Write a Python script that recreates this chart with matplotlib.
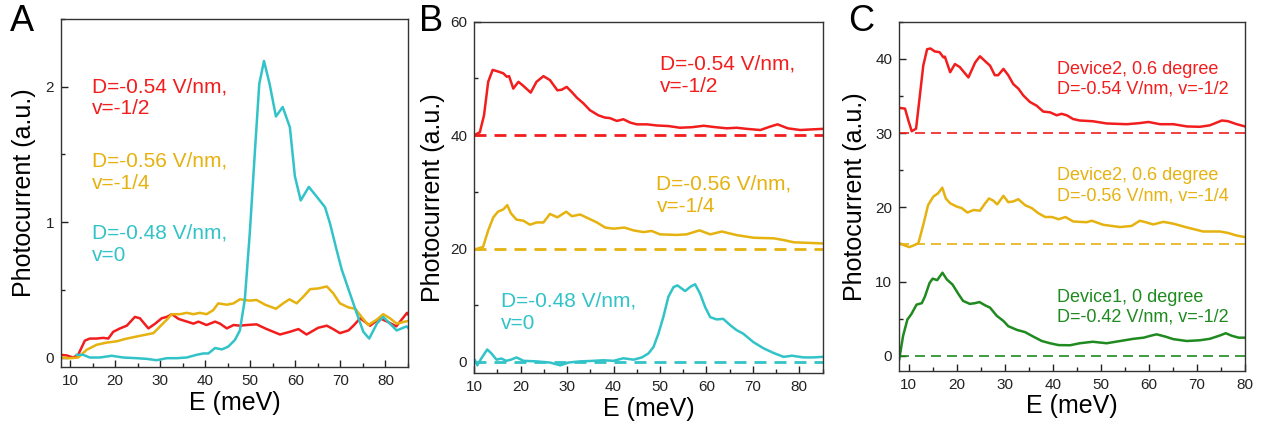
import numpy as np
import matplotlib
matplotlib.use("Agg")
import matplotlib.pyplot as plt
from matplotlib.ticker import MultipleLocator

plt.rcParams['font.family'] = ['Liberation Sans', 'DejaVu Sans']

RED = '#f21d1d'
YELLOW = '#e5b20f'
CYAN = '#31c3c8'
GREEN = '#1f8a1f'

# ---- panel A ----
a_red_E = [8.0, 9.3, 10.7, 11.8, 13.3, 14.4, 15.9, 17.4, 18.5, 19.6, 21.1, 22.6, 24.4, 25.5,
           27.4, 28.9, 30.35, 31.5, 32.6, 34.1, 35.5, 37.4, 38.5, 40.3, 42.2, 43.3, 44.8, 46.3,
           47.7, 49.2, 51.4, 53.65, 56.6, 58.8, 60.7, 62.5, 65.1, 67.0, 68.4, 69.9, 71.8, 72.9,
           74.4, 76.6, 78.8, 80.7, 82.4, 84.8, 85.0]
a_red = [0.02, 0.015, 0.0, 0.02, 0.125, 0.14, 0.14, 0.145, 0.14, 0.19, 0.215, 0.235, 0.30, 0.29,
         0.215, 0.25, 0.29, 0.30, 0.32, 0.285, 0.27, 0.25, 0.265, 0.24, 0.265, 0.25, 0.215, 0.24,
         0.235, 0.24, 0.245, 0.21, 0.17, 0.19, 0.21, 0.17, 0.22, 0.235, 0.21, 0.18, 0.20, 0.235,
         0.29, 0.235, 0.29, 0.26, 0.23, 0.33, 0.32]

a_yel_E = [8.0, 10.0, 11.8, 13.7, 15.9, 18.1, 20.4, 22.6, 24.8, 27.0, 28.5, 30.0, 31.5, 32.6,
           34.4, 35.9, 37.4, 38.8, 40.3, 41.8, 42.9, 44.8, 46.3, 47.7, 49.9, 51.4, 53.3, 55.7,
           57.3, 58.7, 60.3, 61.8, 63.3, 65.1, 67.0, 68.4, 69.9, 71.8, 73.3, 74.7, 76.2, 78.1,
           79.5, 81.0, 82.5, 85.0]
a_yel = [0.0, -0.005, 0.0, 0.057, 0.094, 0.11, 0.12, 0.14, 0.155, 0.17, 0.18, 0.23, 0.28, 0.32,
         0.32, 0.33, 0.32, 0.33, 0.32, 0.35, 0.40, 0.39, 0.40, 0.43, 0.42, 0.425, 0.39, 0.36,
         0.40, 0.43, 0.40, 0.45, 0.505, 0.51, 0.525, 0.475, 0.40, 0.37, 0.36, 0.30, 0.24, 0.28,
         0.32, 0.29, 0.25, 0.27]

a_cyan_E = [11.5, 12.9, 14.4, 16.6, 19.25, 21.8, 24.8, 27.0, 29.2, 31.5, 33.7, 35.9, 38.1, 39.6,
            40.7, 42.2, 43.7, 45.1, 46.6, 47.7, 48.8, 49.9, 51.05, 52.0, 53.05, 54.3, 55.7, 57.2,
            58.8, 59.9, 61.2, 63.0, 64.7, 66.6, 67.7, 69.2, 70.3, 72.1, 73.6, 75.1, 76.4, 78.1,
            79.5, 81.0, 82.5, 84.7, 85.0]
a_cyan = [0.02, 0.02, 0.0, 0.0, 0.013, 0.0, -0.005, -0.01, -0.02, -0.005, -0.005, 0.0, 0.02, 0.03,
          0.03, 0.07, 0.06, 0.08, 0.13, 0.20, 0.43, 0.92, 1.53, 2.02, 2.19, 2.02, 1.78, 1.85,
          1.70, 1.34, 1.16, 1.26, 1.19, 1.11, 0.99, 0.79, 0.65, 0.475, 0.33, 0.19, 0.14, 0.25,
          0.30, 0.25, 0.20, 0.23, 0.22]

# ---- panel B ----
b_red_E = [10.0, 11.2, 12.1, 13.0, 13.96, 15.2, 16.25, 17.0, 17.5, 18.4, 19.5, 20.4, 22.15, 23.4,
           24.9, 26.3, 27.9, 28.8, 29.9, 31.0, 32.1, 33.5, 34.9, 36.7, 38.1, 39.2, 40.7, 42.1,
           43.6, 45.0, 47.2, 49.3, 51.8, 54.3, 56.9, 59.4, 61.9, 64.4, 66.5, 68.7, 71.6, 73.7,
           75.3, 77.5, 80.2, 82.5, 85.0]
b_red = [40.0, 40.5, 43.5, 49.4, 51.5, 51.2, 50.9, 50.3, 50.4, 48.2, 49.4, 48.8, 47.5, 49.4,
         50.4, 49.7, 47.9, 48.0, 48.5, 47.6, 46.6, 45.6, 44.4, 43.5, 43.1, 43.0, 42.5, 42.8,
         42.2, 41.9, 41.9, 41.7, 41.6, 41.3, 41.4, 41.65, 41.4, 41.2, 41.3, 41.1, 40.9, 41.5,
         41.9, 41.2, 40.9, 41.0, 41.1]

b_yel_E = [10.0, 11.9, 13.0, 14.1, 15.1, 16.25, 17.1, 17.9, 19.1, 20.6, 22.0, 23.4, 24.9, 26.3,
           27.9, 29.8, 31.0, 32.8, 34.6, 36.4, 38.2, 40.0, 42.3, 44.3, 46.4, 48.2, 50.0, 53.6,
           55.7, 58.5, 60.8, 63.3, 66.6, 70.2, 74.5, 76.6, 78.8, 82.0, 85.0]
b_yel = [19.8, 20.3, 23.2, 25.5, 26.5, 26.9, 27.65, 26.2, 25.1, 24.9, 24.2, 24.6, 24.6, 26.1,
         25.5, 26.5, 25.7, 26.0, 25.3, 24.6, 23.7, 23.5, 23.7, 23.2, 22.9, 23.1, 22.5, 22.4,
         22.5, 23.2, 22.5, 23.0, 22.35, 21.9, 21.8, 21.5, 21.1, 21.0, 20.9]

b_cyan_E = [10.15, 10.65, 11.5, 12.8, 13.7, 14.8, 15.8, 16.9, 17.9, 19.1, 20.6, 23.4, 26.3, 28.5,
            30.3, 32.8, 35.7, 37.8, 40.0, 42.1, 44.3, 46.1, 47.5, 48.6, 49.65, 50.7, 51.8, 52.9,
            53.75, 55.4, 56.6, 57.55, 58.6, 59.7, 60.8, 62.2, 63.6, 65.1, 66.5, 67.9, 70.1, 72.3,
            74.4, 76.6, 78.4, 80.9, 83.0, 85.0]
b_cyan = [0.3, -0.6, 0.6, 2.2, 1.5, 0.4, 0.6, 0.2, 0.4, 0.8, 0.2, 0.1, -0.1, -0.6,
          -0.1, 0.1, 0.2, 0.3, 0.2, 0.65, 0.4, 0.8, 1.5, 2.65, 5.0, 7.9, 11.5, 13.2,
          13.5, 12.5, 13.3, 13.7, 12.1, 9.7, 7.9, 7.5, 7.6, 6.5, 5.6, 5.0, 3.5, 2.4,
          1.6, 0.9, 1.1, 0.8, 0.8, 0.9]

# ---- panel C ----
c_red_E = [8.0, 9.2, 9.9, 10.6, 11.5, 12.3, 13.0, 13.8, 14.5, 15.4, 16.4, 17.2, 17.5, 18.6,
           19.6, 20.6, 22.4, 23.8, 24.8, 26.2, 26.9, 27.9, 28.6, 29.7, 30.7, 31.75, 32.8, 33.8,
           35.2, 36.6, 38.0, 39.4, 40.8, 41.8, 42.9, 44.2, 45.6, 48.3, 51.2, 55.4, 58.1, 59.9,
           62.3, 65.1, 67.9, 70.6, 72.7, 75.2, 76.5, 78.3, 80.0]
c_red = [33.4, 33.3, 31.7, 30.25, 30.6, 35.1, 39.1, 41.3, 41.4, 41.0, 40.9, 40.2, 40.3, 38.2,
         39.3, 38.9, 37.5, 39.5, 40.35, 39.5, 39.1, 37.8, 37.8, 38.65, 37.8, 36.6, 36.0, 35.1,
         34.2, 33.7, 32.9, 32.8, 32.4, 32.6, 32.4, 31.9, 31.7, 31.6, 31.3, 31.2, 31.35, 31.5,
         31.2, 31.2, 30.9, 30.85, 31.05, 31.7, 31.6, 31.2, 30.9]

c_yel_E = [8.0, 9.2, 10.1, 11.3, 12.0, 13.0, 14.0, 15.1, 16.1, 16.96, 17.7, 18.6, 20.0, 21.0,
           22.2, 23.5, 24.8, 25.9, 26.7, 27.6, 28.4, 29.7, 30.7, 31.75, 32.8, 34.2, 35.6, 37.0,
           38.4, 39.8, 41.2, 42.6, 44.25, 47.0, 48.1, 50.5, 54.0, 56.4, 58.1, 59.6, 60.9, 63.0,
           65.1, 67.9, 71.3, 74.8, 76.5, 78.3, 80.0]
c_yel = [15.2, 14.85, 14.65, 14.95, 15.2, 17.65, 20.3, 21.45, 21.9, 22.65, 21.2, 20.55, 20.1, 19.9,
         19.3, 19.65, 19.55, 20.55, 21.2, 20.9, 20.4, 21.55, 20.7, 20.8, 21.1, 20.3, 19.9, 19.2,
         18.7, 18.7, 18.4, 18.7, 18.1, 18.0, 18.2, 17.65, 17.35, 17.5, 18.2, 17.95, 17.7, 18.05,
         17.8, 17.3, 16.75, 16.75, 16.55, 16.2, 16.0]

c_grn_E = [8.0, 8.8, 9.7, 10.5, 11.6, 12.7, 13.35, 14.3, 14.95, 15.9, 17.0, 17.9, 19.1, 20.35,
           21.3, 22.7, 23.8, 24.7, 25.9, 26.9, 28.3, 29.7, 30.7, 32.5, 34.2, 35.9, 37.7, 39.4,
           41.2, 43.6, 45.6, 48.3, 51.2, 54.0, 56.8, 58.9, 60.3, 61.6, 63.4, 65.1, 67.9, 70.6,
           72.7, 74.8, 76.0, 77.3, 78.7, 80.0]
c_grn = [-0.45, 2.7, 4.9, 5.6, 6.9, 7.1, 8.0, 9.8, 10.4, 10.2, 11.2, 10.3, 9.6, 8.3,
         7.4, 7.0, 7.1, 7.25, 6.8, 6.5, 5.4, 4.7, 4.0, 3.5, 3.2, 2.6, 2.0, 1.7,
         1.45, 1.43, 1.7, 1.9, 1.7, 2.0, 2.3, 2.45, 2.7, 2.9, 2.6, 2.25, 2.0, 2.1,
         2.3, 2.75, 3.05, 2.7, 2.45, 2.45]

b_baselines = [40, 20, 0]
c_baselines = [30, 15, 0]


def style_axes(ax, xlim, ylim, ymajor, yminor, ylab_x):
    ax.set_xlim(*xlim)
    ax.set_ylim(*ylim)
    ax.xaxis.set_major_locator(MultipleLocator(10))
    ax.xaxis.set_minor_locator(MultipleLocator(5))
    ax.yaxis.set_major_locator(MultipleLocator(ymajor))
    ax.yaxis.set_minor_locator(MultipleLocator(yminor))
    ax.tick_params(which='both', direction='in', top=False, right=False,
                   labelsize=11, colors='#222222', pad=5)
    ax.tick_params(which='major', length=5, width=1)
    ax.tick_params(which='minor', length=3, width=1)
    for sp in ax.spines.values():
        sp.set_linewidth(1.0)
        sp.set_color('#333333')
    ax.set_xlabel('E (meV)', fontsize=18)
    ax.set_ylabel('Photocurrent (a.u.)', fontsize=18)
    ax.xaxis.set_label_coords(0.5, -0.068)
    ax.yaxis.set_label_coords(ylab_x, 0.5)


fig = plt.figure(figsize=(12.63, 4.23), dpi=100)

axA = fig.add_axes([0.0483, 0.1324, 0.2747, 0.8227])
axB = fig.add_axes([0.3755, 0.1175, 0.2758, 0.8312])
axC = fig.add_axes([0.7120, 0.1236, 0.2737, 0.8250])

# A
axA.plot(a_red_E, a_red, color=RED, lw=1.8)
axA.plot(a_yel_E, a_yel, color=YELLOW, lw=1.8)
axA.plot(a_cyan_E, a_cyan, color=CYAN, lw=1.8)
style_axes(axA, (8, 85), (-0.07, 2.5), 1, 0.5, -0.072)
axA.text(0.088, 0.774, 'D=-0.54 V/nm,\nv=-1/2', color=RED, fontsize=15,
         transform=axA.transAxes, va='center', ha='left')
axA.text(0.088, 0.559, 'D=-0.56 V/nm,\nv=-1/4', color=YELLOW, fontsize=15,
         transform=axA.transAxes, va='center', ha='left')
axA.text(0.088, 0.352, 'D=-0.48 V/nm,\nv=0', color=CYAN, fontsize=15,
         transform=axA.transAxes, va='center', ha='left')

# B
for E, y, c, base in zip([b_red_E, b_yel_E, b_cyan_E], [b_red, b_yel, b_cyan],
                         [RED, YELLOW, CYAN], b_baselines):
    axB.plot(E, y, color=c, lw=1.8)
    axB.plot([10, 85], [base, base], color=c, lw=2.0, dashes=(4.3, 2.9))
style_axes(axB, (10, 85), (-2, 60), 20, 10, -0.084)
axB.text(0.533, 0.848, 'D=-0.54 V/nm,\nv=-1/2', color=RED, fontsize=15,
         transform=axB.transAxes, va='center', ha='left')
axB.text(0.523, 0.507, 'D=-0.56 V/nm,\nv=-1/4', color=YELLOW, fontsize=15,
         transform=axB.transAxes, va='center', ha='left')
axB.text(0.076, 0.173, 'D=-0.48 V/nm,\nv=0', color=CYAN, fontsize=15,
         transform=axB.transAxes, va='center', ha='left')

# C
for E, y, c, base in zip([c_red_E, c_yel_E, c_grn_E], [c_red, c_yel, c_grn],
                         [RED, YELLOW, GREEN], c_baselines):
    axC.plot(E, y, color=c, lw=1.8)
    axC.plot([8, 80], [base, base], color=c, lw=1.2, dashes=(6, 3.6))
style_axes(axC, (8, 80), (-2, 45), 10, 5, -0.093)
axC.text(0.456, 0.835, 'Device2, 0.6 degree\nD=-0.54 V/nm, v=-1/2', color=RED, fontsize=13,
         transform=axC.transAxes, va='center', ha='left')
axC.text(0.456, 0.530, 'Device2, 0.6 degree\nD=-0.56 V/nm, v=-1/4', color=YELLOW, fontsize=13,
         transform=axC.transAxes, va='center', ha='left')
axC.text(0.456, 0.181, 'Device1, 0 degree\nD=-0.42 V/nm, v=-1/2', color=GREEN, fontsize=13,
         transform=axC.transAxes, va='center', ha='left')

# panel letters
for x, letter in [(10, 'A'), (419, 'B'), (848, 'C')]:
    fig.text(x / 1263, 1 - 4 / 423, letter, fontsize=26, va='top', ha='left')

fig.savefig('out.png', dpi=100)
